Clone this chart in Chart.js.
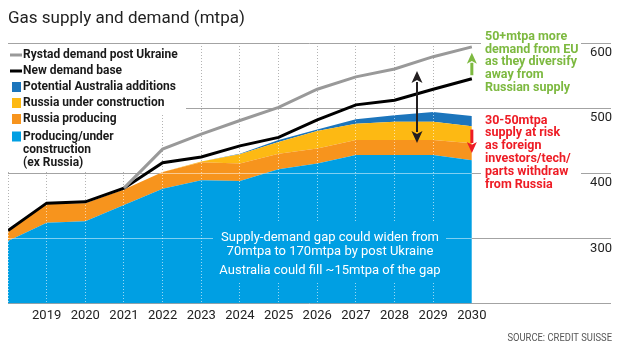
<!DOCTYPE html>
<html>
<head>
<meta charset="utf-8">
<script src="https://cdn.jsdelivr.net/npm/chart.js@4.4.1/dist/chart.umd.min.js"></script>
<style>
  html, body { margin: 0; padding: 0; background: #fff; }
  #wrap { position: relative; width: 620px; height: 349px; }
</style>
</head>
<body>
<div id="wrap"><canvas id="chart" width="620" height="349"></canvas></div>
<script>
// Gas supply and demand, million tonnes per annum
const years = [2018, 2019, 2020, 2021, 2022, 2023, 2024, 2025, 2026, 2027, 2028, 2029, 2030];
const exRussiaSupply      = [296, 324, 326, 351, 376, 389, 388, 406, 415, 428, 428, 428, 420];
const russiaProducing     = [14, 29, 28, 24, 26, 28, 27, 24, 23, 23, 23, 23, 26];
const russiaConstruction  = [0, 0, 0, 0, 0, 1, 14, 18, 27, 25, 28, 28, 26];
const australiaAdditions  = [0, 0, 0, 0, 0, 0, 1, 3, 2, 7, 10, 15, 16];
const newDemandBase       = [312, 354, 356, 377, 416, 425, 442, 455, 482, 505, 512, 529, 545];
const rystadDemand        = [null, null, null, 377, 437, 460, 481, 501, 529, 548, 560, 579, 594];
const xTickLabels = [2019, 2020, 2021, 2022, 2023, 2024, 2025, 2026, 2027, 2028, 2029, 2030];
const yTickLabels = [300, 400, 500, 600];

const COLORS = {
  exRussia: '#009FE3',
  producing: '#F7941D',
  construction: '#FDB913',
  australia: '#1C75BC',
  rystad: '#999999',
  base: '#000000',
  green: '#7DB940',
  red: '#EE1C25'
};
const FONT = 'Roboto, "Open Sans", "DejaVu Sans", sans-serif';

const pts = arr => years.map((x, i) => ({ x, y: arr[i] }));

// text helper with optional horizontal squeeze
function drawText(ctx, text, x, y, font, color, align, squeeze) {
  const sq = squeeze || 1;
  ctx.save();
  ctx.font = font;
  ctx.fillStyle = color;
  ctx.textBaseline = 'middle';
  ctx.textAlign = 'left';
  const w = ctx.measureText(text).width * sq;
  const x0 = align === 'right' ? x - w : align === 'center' ? x - w / 2 : x;
  ctx.translate(x0, y);
  ctx.scale(sq, 1);
  ctx.fillText(text, 0, 0);
  ctx.restore();
}

function drawArrow(ctx, x, yFrom, yTip, color, shaft, headW, headL, both) {
  ctx.save();
  ctx.strokeStyle = color;
  ctx.fillStyle = color;
  ctx.lineWidth = shaft;
  const dir = yTip > yFrom ? 1 : -1;
  const start = both ? yFrom + dir * (headL - 1) : yFrom;
  ctx.beginPath();
  ctx.moveTo(x, start);
  ctx.lineTo(x, yTip - dir * (headL - 1));
  ctx.stroke();
  const head = (tip, d) => {
    ctx.beginPath();
    ctx.moveTo(x, tip);
    ctx.lineTo(x - headW / 2, tip - d * headL);
    ctx.lineTo(x, tip - d * headL * 0.75);
    ctx.lineTo(x + headW / 2, tip - d * headL);
    ctx.closePath();
    ctx.fill();
  };
  head(yTip, dir);
  if (both) head(yFrom, -dir);
  ctx.restore();
}

const decor = {
  id: 'decor',
  beforeDatasetsDraw(chart) {
    // paper behind the legend and the side notes
    const ctx = chart.ctx;
    ctx.save();
    ctx.fillStyle = '#fff';
    ctx.fillRect(8, 45, 178, 70);
    ctx.fillRect(8, 115, 123, 57);
    ctx.fillRect(481, 30, 100, 64);
    ctx.fillRect(481, 112, 100, 80);
    ctx.restore();
  },
  beforeDatasetDraw(chart, args) {
    if (args.index !== 1) return; // supply areas are done, demand lines still to come
    const { ctx, chartArea, scales } = chart;
    const top = chart.getDatasetMeta(5).data;
    ctx.save();
    ctx.beginPath();
    ctx.moveTo(top[0].x, chartArea.bottom);
    top.forEach(p => ctx.lineTo(p.x, p.y));
    ctx.lineTo(top[top.length - 1].x, chartArea.bottom);
    ctx.closePath();
    ctx.clip();
    // light grid on top of the supply stack
    ctx.lineWidth = 1;
    ctx.strokeStyle = 'rgba(255,255,255,0.5)';
    yTickLabels.forEach(v => {
      const y = Math.round(scales.y.getPixelForValue(v) - 0.5) + 0.5;
      ctx.beginPath();
      ctx.moveTo(chartArea.left, y);
      ctx.lineTo(chartArea.right, y);
      ctx.stroke();
    });
    ctx.setLineDash([1, 2]);
    ctx.strokeStyle = 'rgba(255,255,255,0.6)';
    years.slice(0, -1).forEach(v => {
      const x = Math.round(scales.x.getPixelForValue(v) - 0.5) + 0.5;
      ctx.beginPath();
      ctx.moveTo(x, chartArea.top);
      ctx.lineTo(x, chartArea.bottom);
      ctx.stroke();
    });
    ctx.setLineDash([]);
    // panel behind the gap note
    ctx.fillStyle = COLORS.exRussia;
    ctx.fillRect(213, 223, 233, 58);
    ctx.restore();
  },
  afterDatasetsDraw(chart) {
    const { ctx, scales } = chart;
    const X = v => scales.x.getPixelForValue(v);
    const Y = v => scales.y.getPixelForValue(v);

    // gap note inside the supply area
    const noteFont = '13px ' + FONT;
    drawText(ctx, 'Supply-demand gap could widen from', 330, 238, noteFont, '#fff', 'center');
    drawText(ctx, '70mtpa to 170mtpa by post Ukraine', 330, 251.5, noteFont, '#fff', 'center');
    drawText(ctx, 'Australia could fill ~15mtpa of the gap', 330, 271, noteFont, '#fff', 'center');

    // arrows
    drawArrow(ctx, Math.round(X(2028.58)), Y(557), Y(446.5), '#231F20', 2, 11, 12, true);
    drawArrow(ctx, X(2030), Y(550.5), Y(585), COLORS.green, 3, 10, 11, false);
    drawArrow(ctx, X(2030), Y(467), Y(431), COLORS.red, 3, 10, 11, false);
  },
  afterDraw(chart) {
    const ctx = chart.ctx;
    // title
    ctx.save();
    ctx.font = '17px ' + FONT;
    ctx.fillStyle = '#222';
    ctx.textBaseline = 'alphabetic';
    ctx.fillText('Gas supply and demand (mtpa)', 8, 23);
    ctx.restore();

    // legend
    const lf = 'bold 12.5px ' + FONT;
    const sq = 0.96;
    const lineItem = (y, color, text) => {
      ctx.save();
      ctx.fillStyle = color;
      ctx.fillRect(10, y - 1.5, 12, 3);
      ctx.restore();
      drawText(ctx, text, 23, y, lf, '#1a1a1a', 'left', sq);
    };
    const boxItem = (y, color, lines) => {
      ctx.save();
      ctx.fillStyle = color;
      ctx.fillRect(12, y - 5, 9, 10);
      ctx.restore();
      lines.forEach((t, i) => drawText(ctx, t, 23, y + i * 13.2, lf, '#1a1a1a', 'left', sq));
    };
    lineItem(55, COLORS.rystad, 'Rystad demand post Ukraine');
    lineItem(71, COLORS.base, 'New demand base');
    boxItem(87, COLORS.australia, ['Potential Australia additions']);
    boxItem(103, COLORS.construction, ['Russia under construction']);
    boxItem(119, COLORS.producing, ['Russia producing']);
    boxItem(136.5, COLORS.exRussia, ['Producing/under', 'construction', '(ex Russia)']);

    // side notes
    const nf = 'bold 12.5px ' + FONT;
    ['50+mtpa more', 'demand from EU', 'as they diversify', 'away from', 'Russian supply']
      .forEach((t, i) => drawText(ctx, t, 485, 36.5 + i * 12.9, nf, COLORS.green, 'left', 1));
    ['30-50mtpa', 'supply at risk', 'as foreign', 'investors/tech/', 'parts withdraw', 'from Russia']
      .forEach((t, i) => drawText(ctx, t, 485, 120.5 + i * 12.8, nf, COLORS.red, 'left', 1));

    // source
    drawText(ctx, 'SOURCE: CREDIT SUISSE', 612, 338, '10px ' + FONT, '#555', 'right', 0.94);
  }
};

// stack order follows dataset order: ex-Russia supply at the bottom, Australia on top
new Chart(document.getElementById('chart'), {
  type: 'line',
  data: {
    datasets: [
      { label: 'Rystad demand post Ukraine', data: pts(rystadDemand), stack: 'rystad', order: 0,
        borderColor: COLORS.rystad, borderWidth: 3, pointRadius: 0, fill: false, tension: 0 },
      { label: 'New demand base', data: pts(newDemandBase), stack: 'base', order: 1,
        borderColor: COLORS.base, borderWidth: 3, pointRadius: 0, fill: false, tension: 0 },
      { label: 'Producing/under construction (ex Russia)', data: pts(exRussiaSupply), stack: 'supply', order: 2,
        backgroundColor: COLORS.exRussia, borderColor: 'rgba(0,0,0,0)', borderWidth: 0, pointRadius: 0, fill: 'start' },
      { label: 'Russia producing', data: pts(russiaProducing), stack: 'supply', order: 3,
        backgroundColor: COLORS.producing, borderColor: 'rgba(0,0,0,0)', borderWidth: 0, pointRadius: 0, fill: '-1' },
      { label: 'Russia under construction', data: pts(russiaConstruction), stack: 'supply', order: 4,
        backgroundColor: COLORS.construction, borderColor: 'rgba(0,0,0,0)', borderWidth: 0, pointRadius: 0, fill: '-1' },
      { label: 'Potential Australia additions', data: pts(australiaAdditions), stack: 'supply', order: 5,
        backgroundColor: COLORS.australia, borderColor: 'rgba(0,0,0,0)', borderWidth: 0, pointRadius: 0, fill: '-1' }
    ]
  },
  options: {
    responsive: false,
    animation: false,
    events: [],
    layout: { padding: { top: 43, left: 8, right: 7, bottom: 20 } },
    plugins: { legend: { display: false }, tooltip: { enabled: false }, title: { display: false } },
    scales: {
      x: {
        type: 'linear', min: 2018, max: 2033.6,
        ticks: {
          stepSize: 1, autoSkip: false, maxRotation: 0, padding: 5,
          font: { family: FONT, size: 13 }, color: '#222',
          callback: v => xTickLabels.includes(v) ? String(v) : ''
        },
        grid: {
          drawTicks: false, lineWidth: 1,
          color: c => (c.tick && c.tick.value <= 2029) ? '#b3b3b3' : 'rgba(0,0,0,0)'
        },
        border: { display: false, dash: [1, 2] }
      },
      y: {
        position: 'right', stacked: true, min: 200, max: 600,
        ticks: {
          stepSize: 100, mirror: true, padding: 1, labelOffset: 10,
          font: { family: FONT, size: 13 }, color: '#222',
          callback: v => yTickLabels.includes(v) ? String(v) : ''
        },
        grid: { drawTicks: false, color: '#a3a3a3', lineWidth: 1 },
        border: { display: false }
      }
    }
  },
  plugins: [decor]
});
</script>
</body>
</html>
